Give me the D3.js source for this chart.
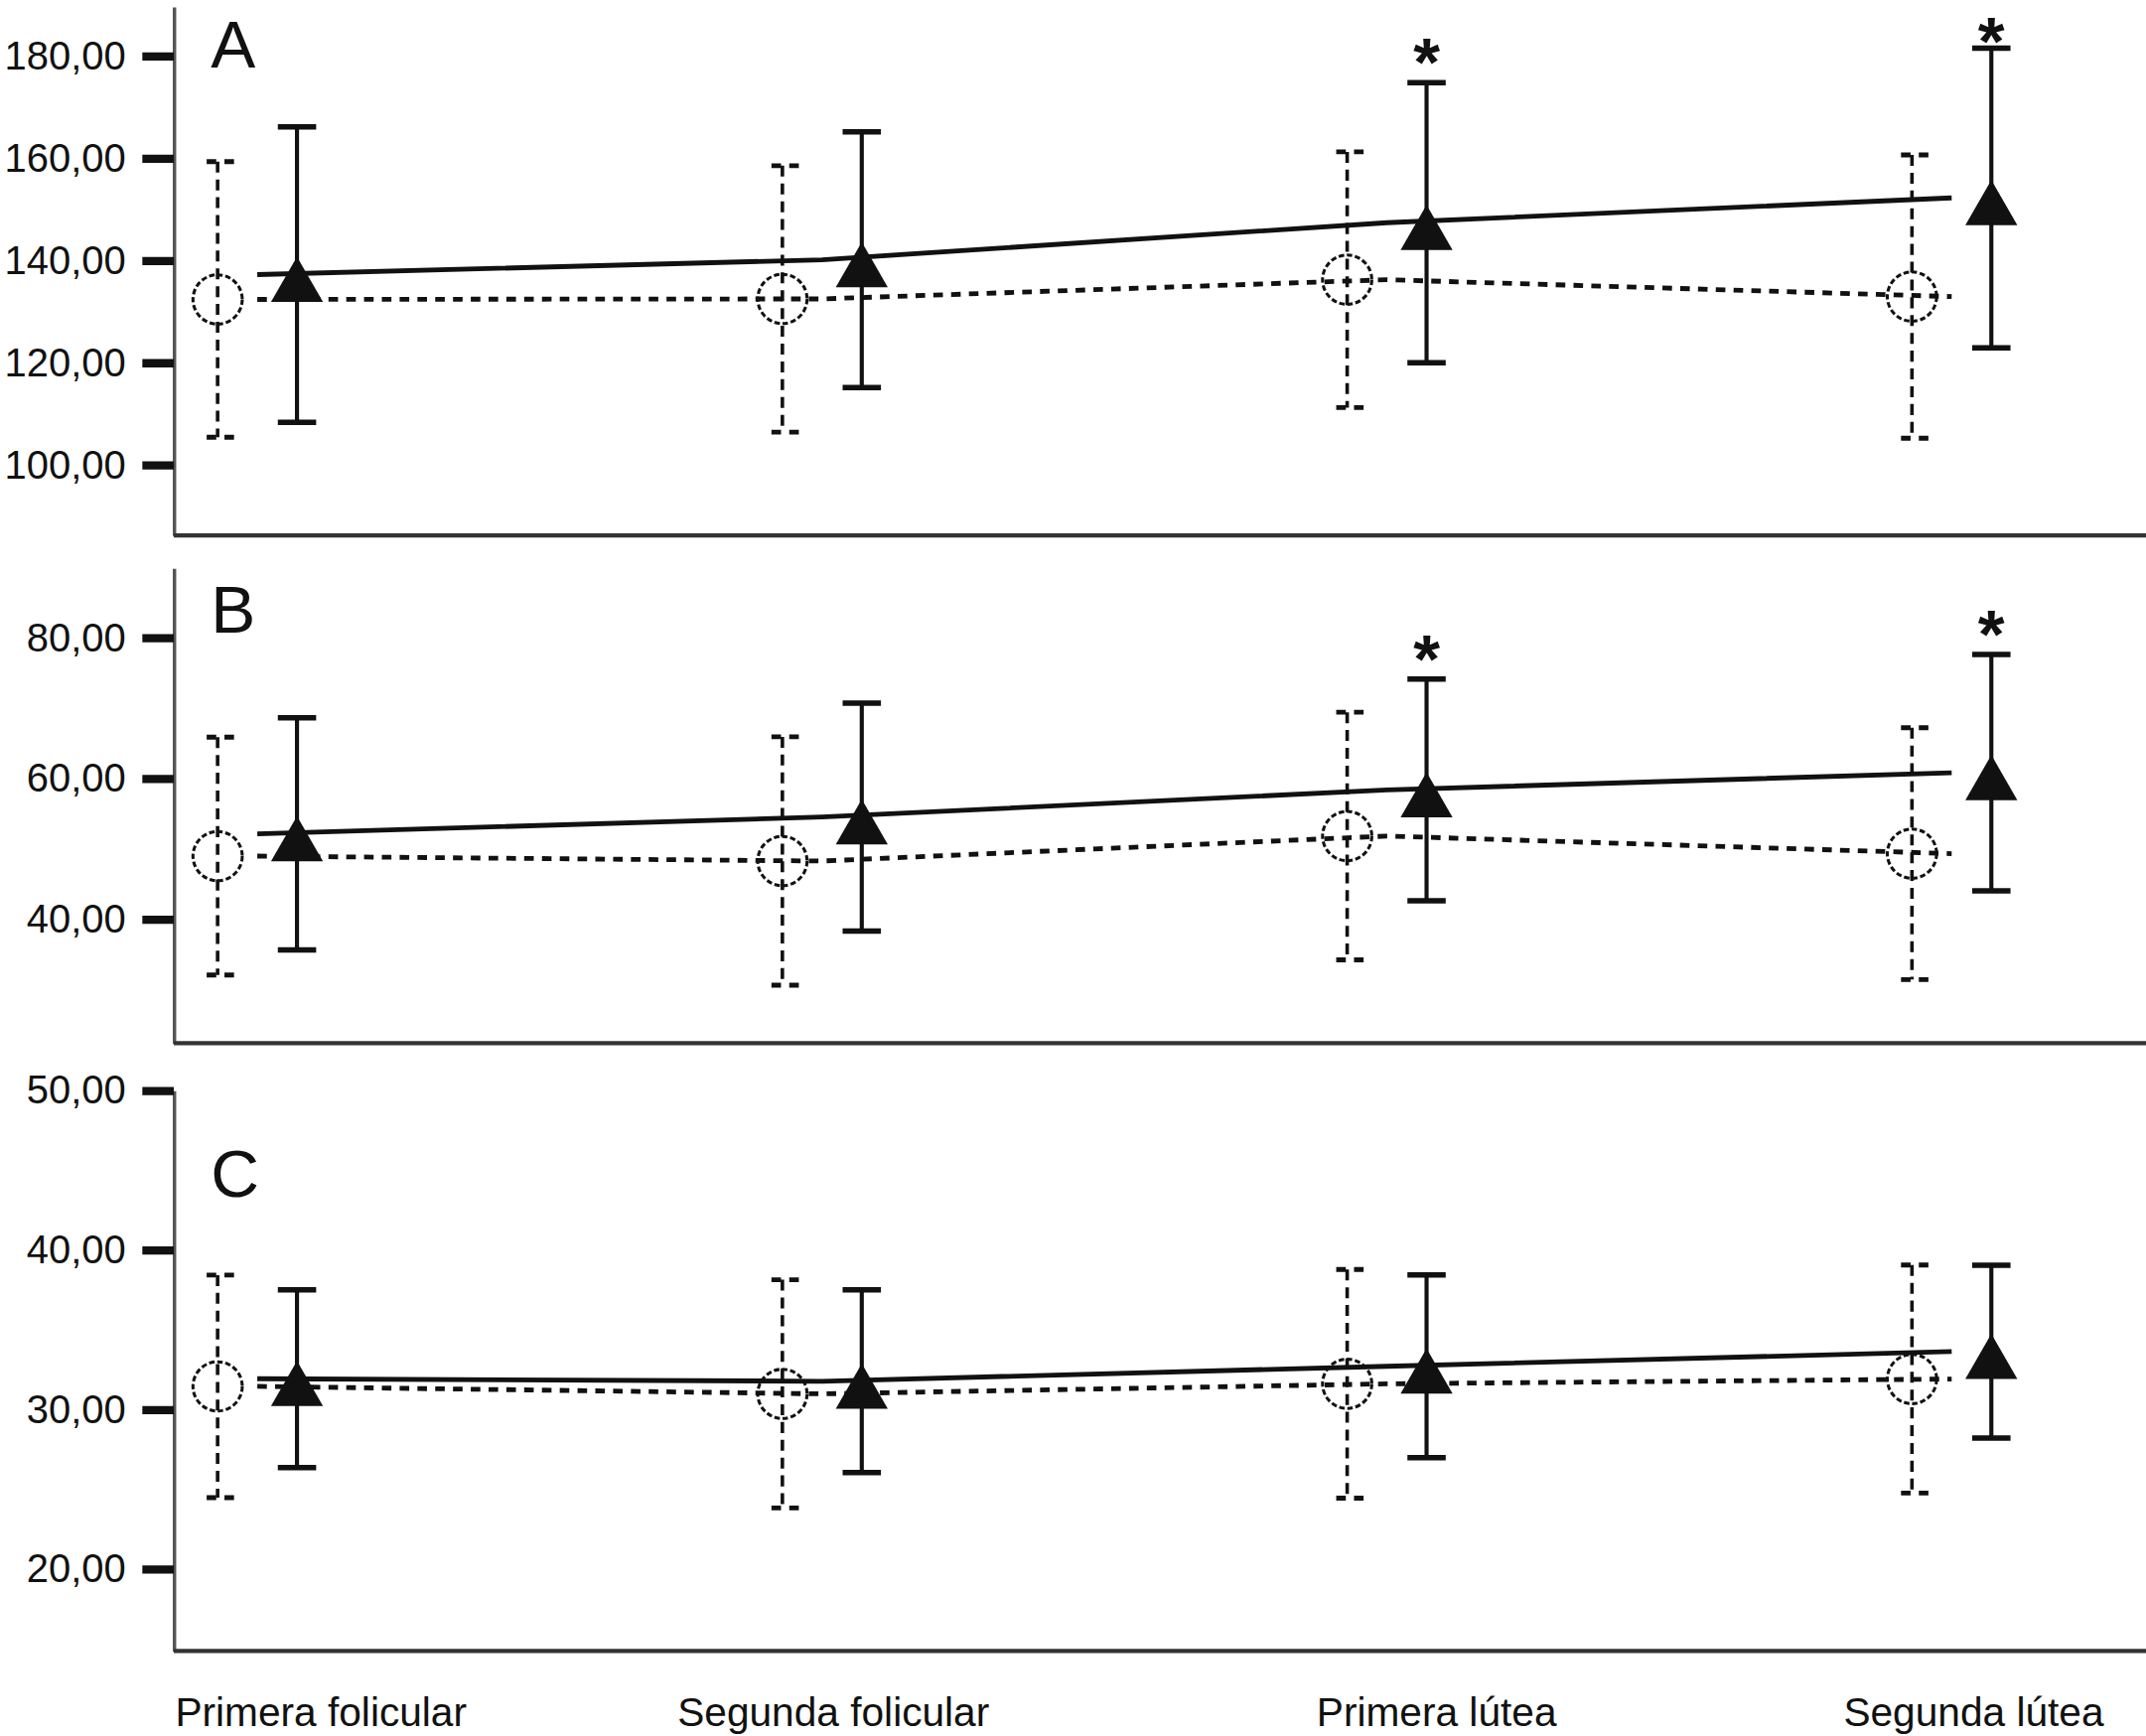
<!DOCTYPE html>
<html>
<head>
<meta charset="utf-8">
<script src="https://cdn.jsdelivr.net/npm/d3@7"></script>
<style>
  body { margin: 0; background: #fff; }
  svg { display: block; }
  text { font-family: "Liberation Sans", Arial, Helvetica, sans-serif; fill: #111; }
</style>
</head>
<body>
<div id="chart"></div>
<script>

// Categories (phases of the cycle)
var categories = ["Primera folicular", "Segunda folicular", "Primera lútea", "Segunda lútea"];

// Panel A : open circles (dashed) and filled triangles (solid), mean and half-width of bar
var circleMeanA = [132.35, 132.45, 136.2, 132.9];
var circleErrA  = [26.95, 26.05, 25.0, 27.7];
var triMeanA    = [137.2, 140.1, 147.35, 152.2];
var triErrA     = [28.9, 25.0, 27.4, 29.3];
var sigA        = [false, false, true, true];
var ticksA      = [100, 120, 140, 160, 180];

// Panel B
var circleMeanB = [48.95, 48.25, 51.8, 49.3];
var circleErrB  = [16.9, 17.65, 17.6, 17.9];
var triMeanB    = [52.1, 54.5, 58.35, 60.8];
var triErrB     = [16.5, 16.2, 15.75, 16.8];
var sigB        = [false, false, true, true];
var ticksB      = [40, 60, 80];

// Panel C
var circleMeanC = [31.44, 30.97, 31.6, 31.9];
var circleErrC  = [6.98, 7.16, 7.17, 7.15];
var triMeanC    = [31.92, 31.76, 32.7, 33.62];
var triErrC     = [5.57, 5.73, 5.73, 5.42];
var sigC        = [false, false, false, false];
var ticksC      = [20, 30, 40, 50];


// panel table built from the arrays above
var panels = [
	{ label: "A", domain: [86.2, 189.6], top: 4.7, bottom: 391, labelY: 49,
	  cm: circleMeanA, ce: circleErrA, tm: triMeanA, te: triErrA, sig: sigA, ticks: ticksA },
	{ label: "B", domain: [22.36, 89.86], top: 415, bottom: 762, labelY: 462,
	  cm: circleMeanB, ce: circleErrB, tm: triMeanB, te: triErrB, sig: sigB, ticks: ticksB },
	{ label: "C", domain: [14.85, 50], top: 796.5, bottom: 1206, labelY: 874,
	  cm: circleMeanC, ce: circleErrC, tm: triMeanC, te: triErrC, sig: sigC, ticks: ticksC }
];

// x positions of the category labels at the bottom
var labelX = [128, 495, 962, 1347];


// Main svg, drawn in a 1568 x 1268 coordinate system and scaled up
var width = 2161;
var height = 1748;

var svg = d3.select("#chart")
	.append("svg")
	.attr("width", width)
	.attr("height", height)
	.attr("viewBox", "0 0 1568 1268");

svg.append("rect").attr("width", 1568).attr("height", 1268).attr("fill", "#fff");

var axisX = 127;
var rightEdge = 1568;
var offset = 29;

var xScale = d3.scalePoint()
	.domain(categories)
	.range([188, 1426]);

var fmt = function(v) { return d3.format(".2f")(v).replace(".", ","); };

// triangle marker: apex above the mean, flat base below it
function triPath(x, y) {
	return "M" + x + "," + (y - 13) + "L" + (x + 19) + "," + (y + 20) + "L" + (x - 19) + "," + (y + 20) + "Z";
}


panels.forEach(function(p) {

	var yScale = d3.scaleLinear()
		.domain(p.domain)
		.range([p.bottom, p.top]);

	var g = svg.append("g").attr("class", "panel-" + p.label);

	// y axis
	var yAxis = g.append("g")
		.attr("transform", "translate(" + axisX + ",0)")
		.call(d3.axisLeft(yScale)
			.tickValues(p.ticks)
			.tickFormat(fmt)
			.tickSize(23)
			.tickSizeOuter(0)
			.tickPadding(12));

	yAxis.attr("font-family", null).attr("font-size", null);
	yAxis.select(".domain")
		.attr("stroke", "#555")
		.attr("stroke-width", 2.5);
	yAxis.selectAll(".tick line")
		.attr("stroke", "#111")
		.attr("stroke-width", 6);
	yAxis.selectAll(".tick text")
		.style("font-size", "29px")
		.attr("fill", "#111");

	// bottom line of the panel
	g.append("line")
		.attr("x1", axisX)
		.attr("x2", rightEdge)
		.attr("y1", p.bottom)
		.attr("y2", p.bottom)
		.attr("stroke", "#333")
		.attr("stroke-width", 3);

	// panel letter
	g.append("text")
		.attr("x", 154)
		.attr("y", p.labelY)
		.style("font-size", "49px")
		.text(p.label);

	var rowsC = categories.map(function(c, i) { return { cat: c, mean: p.cm[i], err: p.ce[i] }; });
	var rowsT = categories.map(function(c, i) { return { cat: c, mean: p.tm[i], err: p.te[i], sig: p.sig[i] }; });

	// connecting lines, through the category centres
	var line = d3.line()
		.x(function(d) { return xScale(d.cat); })
		.y(function(d) { return yScale(d.mean); });

	g.append("path")
		.attr("d", line(rowsC))
		.attr("fill", "none")
		.attr("stroke", "#111")
		.attr("stroke-width", 3.5)
		.attr("stroke-dasharray", "7,6");

	g.append("path")
		.attr("d", line(rowsT))
		.attr("fill", "none")
		.attr("stroke", "#111")
		.attr("stroke-width", 3.5);

	// error bars, dashed for the circle group
	var cBars = g.selectAll(".cbar").data(rowsC).enter().append("g").attr("class", "cbar");
	cBars.append("line")
		.attr("x1", function(d) { return xScale(d.cat) - offset; })
		.attr("x2", function(d) { return xScale(d.cat) - offset; })
		.attr("y1", function(d) { return yScale(d.mean + d.err); })
		.attr("y2", function(d) { return yScale(d.mean - d.err); })
		.attr("stroke", "#111")
		.attr("stroke-width", 2.6)
		.attr("stroke-dasharray", "8,5");
	[1, -1].forEach(function(s) {
		cBars.append("line")
			.attr("x1", function(d) { return xScale(d.cat) - offset - 8; })
			.attr("x2", function(d) { return xScale(d.cat) - offset + 12; })
			.attr("y1", function(d) { return yScale(d.mean + s * d.err); })
			.attr("y2", function(d) { return yScale(d.mean + s * d.err); })
			.attr("stroke", "#111")
			.attr("stroke-width", 3.5)
			.attr("stroke-dasharray", "7,6,7");
	});

	// error bars, solid for the triangle group
	var tBars = g.selectAll(".tbar").data(rowsT).enter().append("g").attr("class", "tbar");
	tBars.append("line")
		.attr("x1", function(d) { return xScale(d.cat) + offset; })
		.attr("x2", function(d) { return xScale(d.cat) + offset; })
		.attr("y1", function(d) { return yScale(d.mean + d.err); })
		.attr("y2", function(d) { return yScale(d.mean - d.err); })
		.attr("stroke", "#111")
		.attr("stroke-width", 3);
	[1, -1].forEach(function(s) {
		tBars.append("line")
			.attr("x1", function(d) { return xScale(d.cat) + offset - 14; })
			.attr("x2", function(d) { return xScale(d.cat) + offset + 14; })
			.attr("y1", function(d) { return yScale(d.mean + s * d.err); })
			.attr("y2", function(d) { return yScale(d.mean + s * d.err); })
			.attr("stroke", "#111")
			.attr("stroke-width", 4);
	});

	// markers
	g.selectAll(".circ").data(rowsC).enter().append("circle")
		.attr("class", "circ")
		.attr("cx", function(d) { return xScale(d.cat) - offset; })
		.attr("cy", function(d) { return yScale(d.mean); })
		.attr("r", 18)
		.attr("fill", "none")
		.attr("stroke", "#111")
		.attr("stroke-width", 2.2)
		.attr("stroke-dasharray", "4,2");

	g.selectAll(".tri").data(rowsT).enter().append("path")
		.attr("class", "tri")
		.attr("d", function(d) { return triPath(xScale(d.cat) + offset, yScale(d.mean)); })
		.attr("fill", "#111");

	// significance stars (kept inside the top edge)
	g.selectAll(".star").data(rowsT.filter(function(d) { return d.sig; })).enter().append("text")
		.attr("class", "star")
		.attr("x", function(d) { return xScale(d.cat) + offset; })
		.attr("y", function(d) { return Math.max(yScale(d.mean + d.err) + 2, 47); })
		.attr("text-anchor", "middle")
		.style("font-size", "50px")
		.style("font-weight", "bold")
		.text("*");
});


// category labels under the last panel
svg.selectAll(".catlabel")
	.data(categories)
	.enter()
	.append("text")
	.attr("class", "catlabel")
	.attr("x", function(d, i) { return labelX[i]; })
	.attr("y", 1261)
	.style("font-size", "29.5px")
	.text(function(d) { return d; });

</script>
</body>
</html>
